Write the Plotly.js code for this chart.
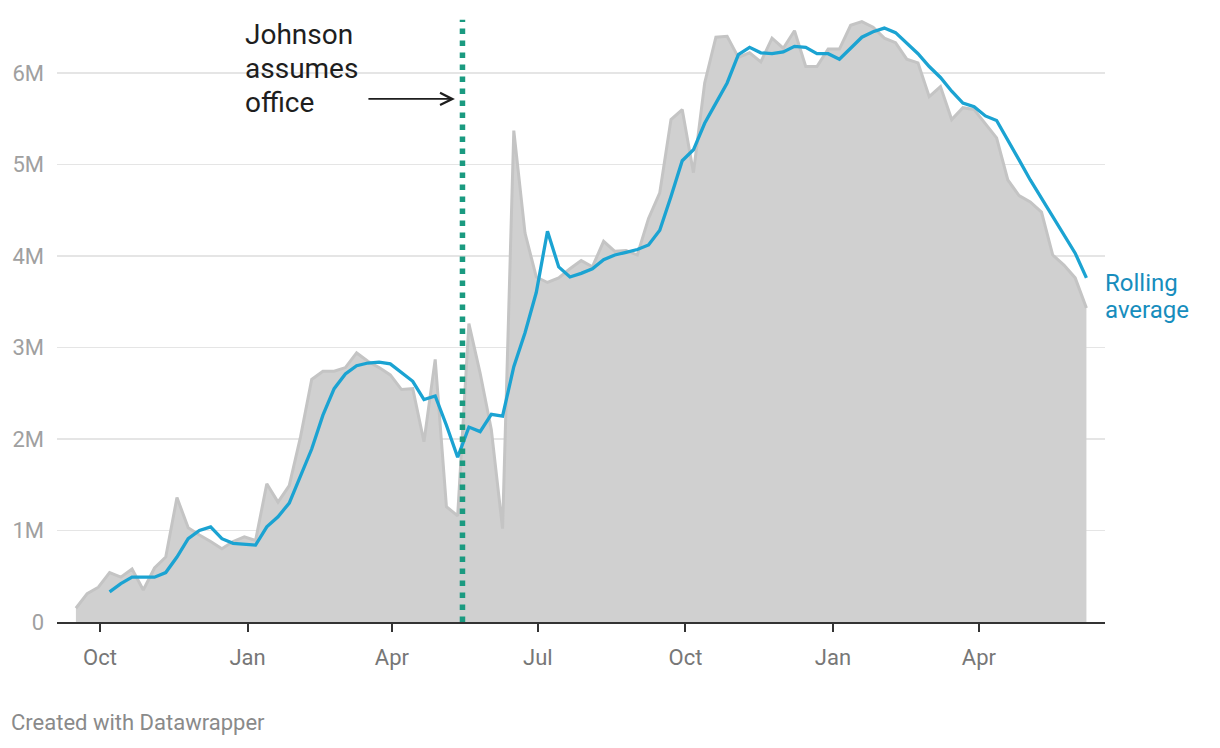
<!DOCTYPE html>
<html>
<head>
<meta charset="utf-8">
<script src="https://cdn.plot.ly/plotly-3.0.1.min.js"></script>
<style>
  html, body { margin: 0; padding: 0; background: #ffffff; }
  #chart { width: 1220px; height: 748px; }
</style>
</head>
<body>
<div id="chart"></div>
<script>
// Weekly dates
var weeks = [
  '2018-09-16','2018-09-23','2018-09-30','2018-10-07','2018-10-14','2018-10-21','2018-10-28','2018-11-04','2018-11-11','2018-11-18',
  '2018-11-25','2018-12-02','2018-12-09','2018-12-16','2018-12-23','2018-12-30','2019-01-06','2019-01-13','2019-01-20','2019-01-27',
  '2019-02-03','2019-02-10','2019-02-17','2019-02-24','2019-03-03','2019-03-10','2019-03-17','2019-03-24','2019-03-31','2019-04-07',
  '2019-04-14','2019-04-21','2019-04-28','2019-05-05','2019-05-12','2019-05-19','2019-05-26','2019-06-02','2019-06-09','2019-06-16',
  '2019-06-23','2019-06-30','2019-07-07','2019-07-14','2019-07-21','2019-07-28','2019-08-04','2019-08-11','2019-08-18','2019-08-25',
  '2019-09-01','2019-09-08','2019-09-15','2019-09-22','2019-09-29','2019-10-06','2019-10-13','2019-10-20','2019-10-27','2019-11-03',
  '2019-11-10','2019-11-17','2019-11-24','2019-12-01','2019-12-08','2019-12-15','2019-12-22','2019-12-29','2020-01-05','2020-01-12',
  '2020-01-19','2020-01-26','2020-02-02','2020-02-09','2020-02-16','2020-02-23','2020-03-01','2020-03-08','2020-03-15','2020-03-22',
  '2020-03-29','2020-04-05','2020-04-12','2020-04-19','2020-04-26','2020-05-03','2020-05-10','2020-05-17','2020-05-24','2020-05-31',
  '2020-06-07'
];

// Weekly values (millions)
var weeklyValues = [
  0.15,0.31,0.38,0.54,0.49,0.58,0.35,0.59,0.71,1.36,
  1.03,0.95,0.88,0.80,0.88,0.93,0.89,1.51,1.31,1.49,
  2.02,2.65,2.74,2.74,2.78,2.94,2.85,2.78,2.70,2.54,
  2.55,1.97,2.87,1.26,1.16,3.26,2.72,2.10,1.02,5.37,
  4.25,3.77,3.71,3.76,3.86,3.95,3.88,4.16,4.05,4.06,
  4.01,4.41,4.69,5.49,5.60,4.91,5.89,6.39,6.40,6.17,
  6.22,6.12,6.38,6.27,6.46,6.07,6.07,6.26,6.26,6.52,
  6.56,6.50,6.38,6.33,6.15,6.11,5.74,5.85,5.49,5.62,
  5.60,5.45,5.29,4.83,4.66,4.59,4.48,4.01,3.90,3.76,
  3.43
];

// Rolling average (millions)
var rollingAverage = [
  null,null,null,0.33,0.42,0.49,0.49,0.49,0.54,0.71,
  0.91,1.00,1.04,0.91,0.86,0.85,0.84,1.04,1.15,1.30,
  1.59,1.89,2.26,2.55,2.71,2.80,2.83,2.84,2.82,2.72,
  2.63,2.43,2.47,2.15,1.80,2.13,2.08,2.27,2.25,2.79,
  3.16,3.60,4.27,3.88,3.77,3.81,3.86,3.96,4.01,4.04,
  4.07,4.12,4.28,4.65,5.04,5.16,5.45,5.67,5.89,6.20,
  6.28,6.22,6.21,6.23,6.29,6.28,6.21,6.21,6.15,6.27,
  6.39,6.45,6.49,6.44,6.33,6.21,6.07,5.95,5.80,5.67,
  5.63,5.53,5.48,5.27,5.05,4.83,4.63,4.43,4.23,4.03,
  3.76
];

var yTickVals = [0, 1, 2, 3, 4, 5, 6];
var yTickText = ['0', '1M', '2M', '3M', '4M', '5M', '6M'];

var eventDate = '2019-05-15';
var eventLabel = ['Johnson', 'assumes', 'office'];
var seriesLabel = ['Rolling', 'average'];

var traces = [
  {
    x: weeks, y: weeklyValues, type: 'scatter', mode: 'lines',
    line: { color: '#c4c4c4', width: 3 },
    fill: 'tozeroy', fillcolor: '#d0d0d0',
    hoverinfo: 'skip'
  },
  {
    x: weeks, y: rollingAverage, type: 'scatter', mode: 'lines',
    line: { color: '#1ba3d2', width: 3.3 },
    connectgaps: false,
    hoverinfo: 'skip'
  }
];

var annotations = [];
var johnsonY = [0.9719, 0.9156, 0.8609];
for (var i = 0; i < eventLabel.length; i++) {
  annotations.push({
    xref: 'paper', yref: 'paper', x: 0.1775, y: johnsonY[i],
    xanchor: 'left', yanchor: 'middle', showarrow: false,
    text: eventLabel[i], font: { family: 'Roboto', size: 28, color: '#1e1e1e' }
  });
}
annotations.push({
  x: '2019-05-10 07:00', y: 5.716, xref: 'x', yref: 'y',
  ax: -88, ay: 0, text: '', showarrow: true,
  arrowhead: 5, arrowsize: 1.5, arrowwidth: 1.6, arrowcolor: '#1e1e1e', standoff: 0
});
var rollY = [0.5613, 0.5166];
for (var j = 0; j < seriesLabel.length; j++) {
  annotations.push({
    xref: 'paper', yref: 'paper', x: 0.998, y: rollY[j],
    xanchor: 'left', yanchor: 'middle', showarrow: false,
    text: seriesLabel[j], font: { family: 'Roboto', size: 24, color: '#178dbd' }
  });
}
annotations.push({
  xref: 'paper', yref: 'paper', x: -0.0458, y: -0.1656,
  xanchor: 'left', yanchor: 'middle', showarrow: false,
  text: 'Created with Datawrapper', font: { family: 'Roboto', size: 22, color: '#8a8a8a' }
});

var layout = {
  width: 1220, height: 748,
  margin: { l: 57, r: 115, t: 18, b: 126 },
  paper_bgcolor: '#ffffff', plot_bgcolor: '#ffffff',
  showlegend: false,
  font: { family: 'Roboto' },
  xaxis: {
    type: 'date',
    range: ['2018-09-04 05:00', '2020-06-18 14:00'],
    tick0: '2018-10-01', dtick: 'M3', tickformat: '%b',
    ticks: 'outside', ticklen: 8, tickwidth: 2, tickcolor: '#333333',
    showline: true, linecolor: '#333333', linewidth: 2,
    showgrid: false, zeroline: false,
    tickfont: { family: 'Roboto', size: 22, color: '#777777' },
    ticklabelstandoff: 7
  },
  yaxis: {
    range: [0, 6.6],
    tickvals: yTickVals, ticktext: yTickText,
    ticks: '', showline: false, zeroline: false,
    showgrid: true, gridcolor: '#e5e5e5', gridwidth: 1.5,
    tickfont: { family: 'Roboto', size: 22, color: '#a0a0a0' },
    ticklabelstandoff: 12
  },
  shapes: [{
    type: 'line', xref: 'x', yref: 'paper',
    x0: eventDate, x1: eventDate, y0: 0, y1: 0.997,
    line: { color: '#1a9a80', width: 5.5, dash: '5.5px,6.5px' },
    layer: 'above'
  }],
  annotations: annotations
};

Plotly.newPlot('chart', traces, layout, { displayModeBar: false, staticPlot: true });
</script>
</body>
</html>
